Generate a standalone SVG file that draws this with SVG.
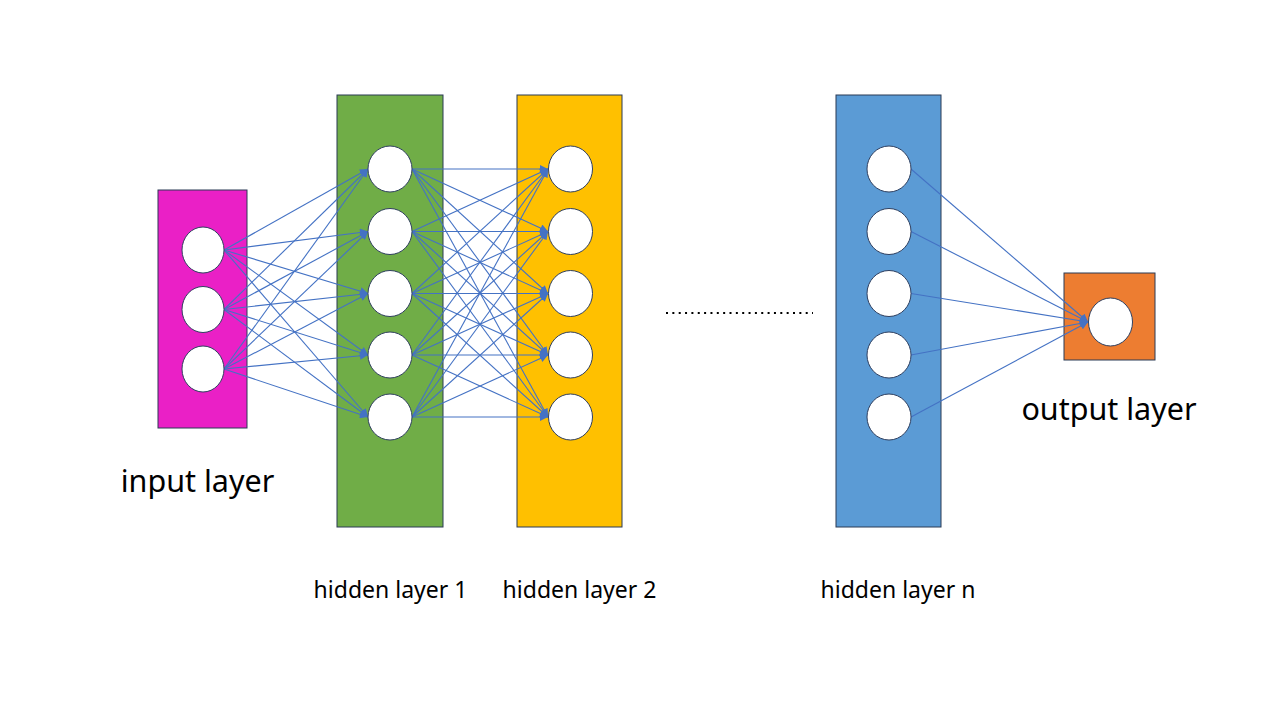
<svg xmlns="http://www.w3.org/2000/svg" width="1280" height="720" viewBox="0 0 1280 720">
<style>
.layer{stroke:#2B3A55;stroke-width:1}
.node{fill:#FFFFFF;stroke:#2F3F5F;stroke-width:1}
.conn line{stroke:#4472C4;stroke-width:1.1;fill:none;marker-end:url(#arr)}
.lbl{font-family:"Noto Sans","Open Sans",sans-serif;fill:#000;text-anchor:middle}
</style>
<defs>
<marker id="arr" markerUnits="userSpaceOnUse" viewBox="0 0 10 10" markerWidth="9" markerHeight="8" refX="10" refY="5" orient="auto">
<path d="M0,0 L10,5 L0,10 z" fill="#4472C4"/>
</marker>
</defs>
<rect width="1280" height="720" fill="#FFFFFF"/>
<g id="layers">
<rect id="input-layer-box" class="layer" x="158" y="190" width="89" height="238" fill="#EA20C6"/>
<rect id="hidden1-box" class="layer" x="337" y="95" width="106" height="432" fill="#70AD47"/>
<rect id="hidden2-box" class="layer" x="517" y="95" width="105" height="432" fill="#FFC000"/>
<rect id="hiddenn-box" class="layer" x="836" y="95" width="105" height="432" fill="#5B9BD5"/>
<rect id="output-layer-box" class="layer" x="1064" y="273" width="91" height="87" fill="#ED7D31"/>
</g>
<g id="connectors" class="conn">
<line x1="224" y1="250" x2="368" y2="169"/>
<line x1="224" y1="250" x2="368" y2="231.5"/>
<line x1="224" y1="250" x2="368" y2="293.5"/>
<line x1="224" y1="250" x2="368" y2="355"/>
<line x1="224" y1="250" x2="368" y2="417"/>
<line x1="224" y1="309.5" x2="368" y2="169"/>
<line x1="224" y1="309.5" x2="368" y2="231.5"/>
<line x1="224" y1="309.5" x2="368" y2="293.5"/>
<line x1="224" y1="309.5" x2="368" y2="355"/>
<line x1="224" y1="309.5" x2="368" y2="417"/>
<line x1="224" y1="369" x2="368" y2="169"/>
<line x1="224" y1="369" x2="368" y2="231.5"/>
<line x1="224" y1="369" x2="368" y2="293.5"/>
<line x1="224" y1="369" x2="368" y2="355"/>
<line x1="224" y1="369" x2="368" y2="417"/>
<line x1="412" y1="169" x2="548" y2="169"/>
<line x1="412" y1="169" x2="548" y2="231.5"/>
<line x1="412" y1="169" x2="548" y2="293.5"/>
<line x1="412" y1="169" x2="548" y2="355"/>
<line x1="412" y1="169" x2="548" y2="417"/>
<line x1="412" y1="231.5" x2="548" y2="169"/>
<line x1="412" y1="231.5" x2="548" y2="231.5"/>
<line x1="412" y1="231.5" x2="548" y2="293.5"/>
<line x1="412" y1="231.5" x2="548" y2="355"/>
<line x1="412" y1="231.5" x2="548" y2="417"/>
<line x1="412" y1="293.5" x2="548" y2="169"/>
<line x1="412" y1="293.5" x2="548" y2="231.5"/>
<line x1="412" y1="293.5" x2="548" y2="293.5"/>
<line x1="412" y1="293.5" x2="548" y2="355"/>
<line x1="412" y1="293.5" x2="548" y2="417"/>
<line x1="412" y1="355" x2="548" y2="169"/>
<line x1="412" y1="355" x2="548" y2="231.5"/>
<line x1="412" y1="355" x2="548" y2="293.5"/>
<line x1="412" y1="355" x2="548" y2="355"/>
<line x1="412" y1="355" x2="548" y2="417"/>
<line x1="412" y1="417" x2="548" y2="169"/>
<line x1="412" y1="417" x2="548" y2="231.5"/>
<line x1="412" y1="417" x2="548" y2="293.5"/>
<line x1="412" y1="417" x2="548" y2="355"/>
<line x1="412" y1="417" x2="548" y2="417"/>
<line x1="911" y1="169" x2="1088" y2="322"/>
<line x1="911" y1="231.5" x2="1088" y2="322"/>
<line x1="911" y1="293.5" x2="1088" y2="322"/>
<line x1="911" y1="355" x2="1088" y2="322"/>
<line x1="911" y1="417" x2="1088" y2="322"/>
</g>
<g id="input-nodes">
<g id="in1"><ellipse class="node" cx="203" cy="250" rx="21" ry="23"/></g>
<g id="in2"><ellipse class="node" cx="203" cy="309.5" rx="21" ry="23"/></g>
<g id="in3"><ellipse class="node" cx="203" cy="369" rx="21" ry="23"/></g>
</g>
<g id="hidden1-nodes">
<g id="h1n1"><ellipse class="node" cx="390" cy="169" rx="22" ry="23"/></g>
<g id="h1n2"><ellipse class="node" cx="390" cy="231.5" rx="22" ry="23"/></g>
<g id="h1n3"><ellipse class="node" cx="390" cy="293.5" rx="22" ry="23"/></g>
<g id="h1n4"><ellipse class="node" cx="390" cy="355" rx="22" ry="23"/></g>
<g id="h1n5"><ellipse class="node" cx="390" cy="417" rx="22" ry="23"/></g>
</g>
<g id="hidden2-nodes">
<g id="h2n1"><ellipse class="node" cx="570.5" cy="169" rx="22" ry="23"/></g>
<g id="h2n2"><ellipse class="node" cx="570.5" cy="231.5" rx="22" ry="23"/></g>
<g id="h2n3"><ellipse class="node" cx="570.5" cy="293.5" rx="22" ry="23"/></g>
<g id="h2n4"><ellipse class="node" cx="570.5" cy="355" rx="22" ry="23"/></g>
<g id="h2n5"><ellipse class="node" cx="570.5" cy="417" rx="22" ry="23"/></g>
</g>
<g id="hiddenn-nodes">
<g id="hnn1"><ellipse class="node" cx="889" cy="169" rx="22" ry="23"/></g>
<g id="hnn2"><ellipse class="node" cx="889" cy="231.5" rx="22" ry="23"/></g>
<g id="hnn3"><ellipse class="node" cx="889" cy="293.5" rx="22" ry="23"/></g>
<g id="hnn4"><ellipse class="node" cx="889" cy="355" rx="22" ry="23"/></g>
<g id="hnn5"><ellipse class="node" cx="889" cy="417" rx="22" ry="23"/></g>
</g>
<g id="output-node">
<ellipse class="node" cx="1110.5" cy="322" rx="22" ry="24"/>
</g>
<g id="ellipsis">
<line x1="666" y1="313" x2="813" y2="313" stroke="#000" stroke-width="2" stroke-dasharray="2 4.35"/>
</g>
<g id="labels">
<text class="lbl" x="197.5" y="492" font-size="30.5">input layer</text>
<text class="lbl" x="1109" y="420" font-size="30.5">output layer</text>
<text class="lbl" x="390.5" y="598" font-size="23">hidden layer 1</text>
<text class="lbl" x="579.5" y="598" font-size="23">hidden layer 2</text>
<text class="lbl" x="898" y="598" font-size="23">hidden layer n</text>
</g>
</svg>
